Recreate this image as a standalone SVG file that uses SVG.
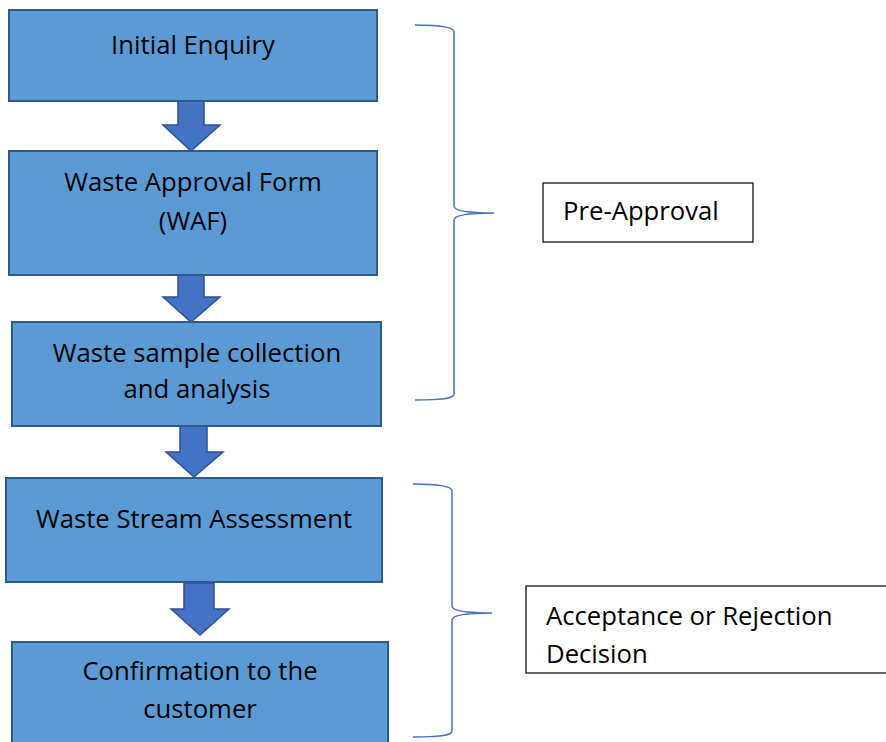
<svg xmlns="http://www.w3.org/2000/svg" width="886" height="742" viewBox="0 0 886 742">
<style>
.box{fill:#5b9bd5;stroke:#2f5b8c;stroke-width:2}
.arr{fill:#4472c4;stroke:#2f528f;stroke-width:1.5;stroke-linejoin:miter}
.t{font-family:"Open Sans","Noto Sans","Liberation Sans",sans-serif;font-size:25.7px;fill:#000}
.c{text-anchor:middle}
.brace{fill:none;stroke:#4472c4;stroke-width:1.5}
.lbl{fill:#fff;stroke:#000;stroke-width:1.2}
</style>
<rect width="886" height="742" fill="#fff"/>
<g id="connectors">
<path class="arr" d="M178,101 H204 V125 H220 L191,151 L163,125 H178 Z"/>
<path class="arr" d="M178,275 H204 V297 H220 L191,322 L163,297 H178 Z"/>
<path class="arr" d="M180,426 H207 V452 H223 L194,477 L166,452 H180 Z"/>
<path class="arr" d="M184,583 H214 V609 H229 L200,635 L171,609 H184 Z"/>
</g>
<g id="n1"><rect class="box" x="9" y="10" width="368" height="91"/><text class="t c" x="193" y="54">Initial Enquiry</text></g>
<g id="n2"><rect class="box" x="9" y="151" width="368" height="124"/><text class="t c" x="193" y="191">Waste Approval Form</text><text class="t c" x="193" y="230">(WAF)</text></g>
<g id="n3"><rect class="box" x="12" y="322" width="369" height="104"/><text class="t c" x="197" y="362">Waste sample collection</text><text class="t c" x="197" y="398">and analysis</text></g>
<g id="n4"><rect class="box" x="6" y="478" width="376" height="104"/><text class="t c" x="194" y="528">Waste Stream Assessment</text></g>
<g id="n5"><rect class="box" x="12" y="642" width="376" height="110"/><text class="t c" x="200" y="680">Confirmation to the</text><text class="t c" x="200" y="718">customer</text></g>
<g id="brace1"><path class="brace" d="M415,25 C440,25 454,27 454,32 V206 C454,211 470,213 494,213 C470,213 454,215 454,220 V394 C454,399 440,400 415,400"/></g>
<g id="brace2"><path class="brace" d="M413,484 C438,484 452,486 452,491 V606 C452,611 468,613 492,613 C468,613 452,615 452,620 V731 C452,736 438,737 413,737"/></g>
<g id="pre"><rect class="lbl" x="543" y="183" width="210" height="59"/><text class="t" x="563" y="220">Pre-Approval</text></g>
<g id="acc"><rect class="lbl" x="526" y="586" width="370" height="87"/><text class="t" x="546" y="625">Acceptance or Rejection</text><text class="t" x="546" y="663">Decision</text></g>
</svg>
